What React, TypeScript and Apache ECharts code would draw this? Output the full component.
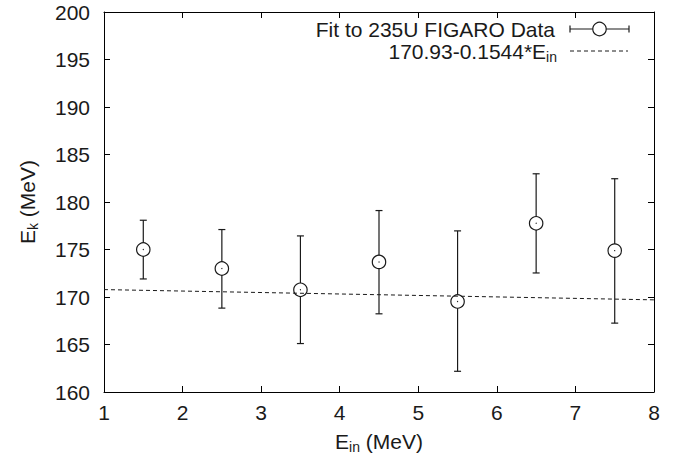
import React, { useEffect, useRef } from "react";
import * as echarts from "echarts";

const xs = [1.5, 2.5, 3.5, 4.5, 5.5, 6.5, 7.5];
const ek = [175.0, 173.0, 170.76, 173.69, 169.53, 177.76, 174.88];
const errLow = [171.9, 168.83, 165.1, 168.23, 162.18, 172.53, 167.25];
const errHigh = [178.08, 177.1, 176.43, 179.1, 176.96, 182.97, 182.45];
const fitX = [1, 8];
const fitY = [170.78, 169.7];
const dataLabel = "Fit to 235U FIGARO Data";
const fitLabel = "170.93-0.1544*E";

const FONT = "Liberation Sans, Arial, Helvetica, sans-serif";
const INK = "#1a1a1a";
const TXT = "#1a1a1a";

export default function App() {
  const ref = useRef<HTMLDivElement>(null);
  useEffect(() => {
    if (!ref.current) return;
    const chart = echarts.init(ref.current, undefined, { renderer: "svg" });
    const r = 6.7;
    const cap = 3.5;
    const errData = xs.map((x, i) => [x, ek[i], errLow[i], errHigh[i]]);
    const axisCommon = {
      axisLine: { show: true, lineStyle: { color: "#000", width: 1 } },
      axisTick: { show: true, inside: true, length: 6, lineStyle: { color: "#000" } },
      splitLine: { show: false },
    };
    chart.setOption({
      animation: false,
      backgroundColor: "#fff",
      textStyle: { fontFamily: FONT },
      grid: { left: 104, right: 29, top: 12, bottom: 71, containLabel: false },
      xAxis: [
        {
          type: "value",
          min: 1,
          max: 8,
          interval: 1,
          position: "bottom",
          ...axisCommon,
          axisLabel: { color: TXT, fontSize: 21, fontFamily: FONT, margin: 10 },
          name: "{a|E}{b|in}{a| (MeV)}",
          nameLocation: "middle",
          nameGap: 36,
          nameTextStyle: {
            rich: {
              a: { fontSize: 21, fontFamily: FONT, color: TXT },
              b: { fontSize: 14, fontFamily: FONT, color: TXT, padding: [12, 0, 0, 0] },
            },
          },
        },
        {
          type: "value",
          min: 1,
          max: 8,
          interval: 1,
          position: "top",
          ...axisCommon,
          axisLabel: { show: false },
        },
      ],
      yAxis: [
        {
          type: "value",
          min: 160,
          max: 200,
          interval: 5,
          position: "left",
          ...axisCommon,
          axisLabel: { color: TXT, fontSize: 21, fontFamily: FONT, margin: 14 },
          name: "{a|E}{b|k}{a| (MeV)}",
          nameLocation: "middle",
          nameGap: 64,
          nameRotate: 90,
          nameTextStyle: {
            rich: {
              a: { fontSize: 21, fontFamily: FONT, color: TXT },
              b: { fontSize: 14, fontFamily: FONT, color: TXT, padding: [12, 0, 0, 0] },
            },
          },
        },
        {
          type: "value",
          min: 160,
          max: 200,
          interval: 5,
          position: "right",
          ...axisCommon,
          axisLabel: { show: false },
        },
      ],
      series: [
        {
          type: "line",
          data: fitX.map((x, i) => [x, fitY[i]]),
          showSymbol: false,
          symbol: "none",
          lineStyle: { color: INK, width: 1, type: [4, 3] },
          z: 2,
        },
        {
          type: "custom",
          data: errData,
          encode: { x: 0, y: [1, 2, 3] },
          z: 3,
          renderItem: (params: any, api: any) => {
            const x = api.value(0);
            const c = api.coord([x, api.value(1)]);
            const lo = api.coord([x, api.value(2)]);
            const hi = api.coord([x, api.value(3)]);
            const st = { stroke: INK, lineWidth: 1.2 };
            return {
              type: "group",
              children: [
                { type: "line", shape: { x1: c[0], y1: hi[1], x2: c[0], y2: c[1] - r }, style: st },
                { type: "line", shape: { x1: c[0], y1: c[1] + r, x2: c[0], y2: lo[1] }, style: st },
                { type: "line", shape: { x1: c[0] - cap, y1: hi[1], x2: c[0] + cap, y2: hi[1] }, style: st },
                { type: "line", shape: { x1: c[0] - cap, y1: lo[1], x2: c[0] + cap, y2: lo[1] }, style: st },
                { type: "circle", shape: { cx: c[0], cy: c[1], r }, style: { fill: "none", stroke: INK, lineWidth: 1.2 } },
                { type: "circle", shape: { cx: c[0], cy: c[1], r: 0.6 }, style: { fill: INK } },
              ],
            };
          },
        },
      ],
      graphic: [
        {
          type: "text",
          x: 555,
          y: 29,
          style: { text: dataLabel, align: "right", verticalAlign: "middle", font: `21px ${FONT}`, fill: TXT },
        },
        {
          type: "text",
          x: 557,
          y: 51,
          style: {
            text: `{a|${fitLabel}}{b|in}`,
            align: "right",
            verticalAlign: "middle",
            fill: TXT,
            rich: {
              a: { fontSize: 21, fontFamily: FONT, fill: TXT },
              b: { fontSize: 14, fontFamily: FONT, fill: TXT, padding: [12, 0, 0, 0] },
            },
          },
        },
        { type: "line", shape: { x1: 570, y1: 29, x2: 629, y2: 29 }, style: { stroke: INK, lineWidth: 1.2 } },
        { type: "line", shape: { x1: 570, y1: 29 - cap, x2: 570, y2: 29 + cap }, style: { stroke: INK, lineWidth: 1.2 } },
        { type: "line", shape: { x1: 629, y1: 29 - cap, x2: 629, y2: 29 + cap }, style: { stroke: INK, lineWidth: 1.2 } },
        { type: "circle", shape: { cx: 599.5, cy: 29, r }, style: { fill: "#fff", stroke: INK, lineWidth: 1.2 } },
        { type: "line", shape: { x1: 570, y1: 51, x2: 628, y2: 51 }, style: { stroke: INK, lineWidth: 1, lineDash: [4, 3] } },
      ],
    });
    return () => chart.dispose();
  }, []);
  return (
    <div
      ref={ref}
      style={{ position: "fixed", left: 0, top: 0, width: 683, height: 463 }}
    />
  );
}
